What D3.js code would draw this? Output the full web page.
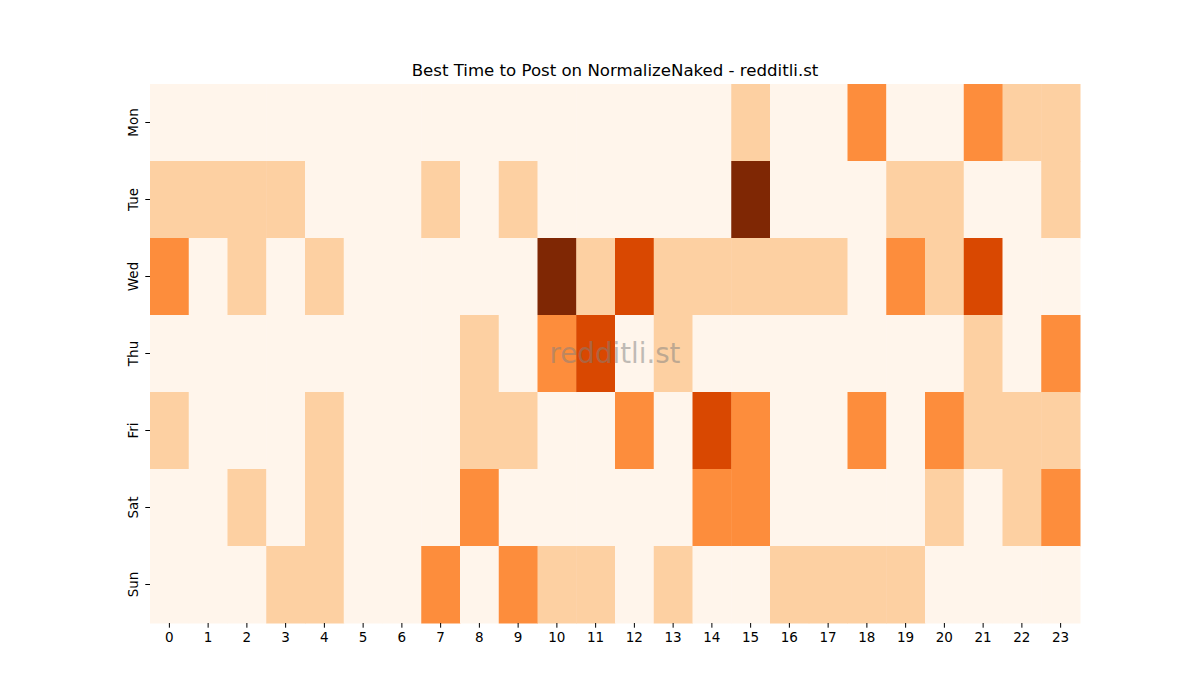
<!DOCTYPE html>
<html>
<head>
<meta charset="utf-8">
<script src="https://cdn.jsdelivr.net/npm/d3@7"></script>
<style>
  body { margin: 0; background: #fff; }
  text { font-family: "DejaVu Sans", sans-serif; }
</style>
</head>
<body>
<div id="chart"></div>
<script>
const days = ["Mon", "Tue", "Wed", "Thu", "Fri", "Sat", "Sun"];
const hours = d3.range(24);
// activity level per hour (0-4), one row per day
const mon = [0,0,0,0,0,0,0,0,0,0,0,0,0,0,0,1,0,0,2,0,0,2,1,1];
const tue = [1,1,1,1,0,0,0,1,0,1,0,0,0,0,0,4,0,0,0,1,1,0,0,1];
const wed = [2,0,1,0,1,0,0,0,0,0,4,1,3,1,1,1,1,1,0,2,1,3,0,0];
const thu = [0,0,0,0,0,0,0,0,1,0,2,3,0,1,0,0,0,0,0,0,0,1,0,2];
const fri = [1,0,0,0,1,0,0,0,1,1,0,0,2,0,3,2,0,0,2,0,2,1,1,1];
const sat = [0,0,1,0,1,0,0,0,2,0,0,0,0,0,2,2,0,0,0,0,1,0,1,2];
const sun = [0,0,0,1,1,0,0,2,0,2,1,1,0,1,0,0,1,1,1,1,0,0,0,0];
const levelColors = ["#fff5eb", "#fdd0a2", "#fd8d3c", "#d94801", "#7f2704"];

const rows = [mon, tue, wed, thu, fri, sat, sun];
const cells = [];
rows.forEach((r, i) => r.forEach((v, h) => cells.push({ day: days[i], hour: h, value: v })));

const W = 1200, H = 700;
const margin = { top: 84, right: 120, bottom: 77, left: 150 };
const width = W - margin.left - margin.right;
const height = H - margin.top - margin.bottom;

const svg = d3.select("#chart").append("svg")
    .attr("width", W)
    .attr("height", H);

const g = svg.append("g").attr("transform", `translate(${margin.left},${margin.top})`);

let x = d3.scaleBand().domain(hours).range([0, width]);
let y = d3.scaleBand().domain(days).range([0, height]);
let color = d3.scaleOrdinal().domain(d3.range(5)).range(levelColors);

g.selectAll("rect.cell")
    .data(cells)
    .join("rect")
    .attr("class", "cell")
    .attr("x", d => x(d.hour))
    .attr("y", d => y(d.day))
    .attr("width", x.bandwidth() + 0.5)
    .attr("height", y.bandwidth() + 0.5)
    .attr("fill", d => color(d.value));

// axes
let xAxis = g.append("g")
    .attr("transform", `translate(0,${height})`)
    .call(d3.axisBottom(x).tickSize(4.7).tickPadding(5));
let yAxis = g.append("g")
    .call(d3.axisLeft(y).tickSize(4.7).tickPadding(5));

[xAxis, yAxis].forEach(a => {
    a.select(".domain").remove();
    a.selectAll(".tick line").attr("stroke", "#000").attr("stroke-width", 1);
    a.selectAll(".tick text").attr("fill", "#000").style("font-size", "13.5px");
});

yAxis.selectAll(".tick text")
    .attr("transform", "rotate(-90)")
    .attr("x", 0)
    .attr("y", -12.5)
    .attr("dy", 0)
    .attr("text-anchor", "middle");

// title
svg.append("text")
    .attr("x", margin.left + width / 2)
    .attr("y", margin.top - 8)
    .attr("text-anchor", "middle")
    .style("font-size", "16.6px")
    .attr("fill", "#000")
    .text("Best Time to Post on NormalizeNaked - redditli.st");

// watermark
svg.append("text")
    .attr("x", margin.left + width / 2)
    .attr("y", margin.top + height / 2)
    .attr("text-anchor", "middle")
    .attr("dominant-baseline", "central")
    .style("font-size", "27.7px")
    .attr("fill", "#808080")
    .attr("fill-opacity", 0.5)
    .text("redditli.st");
</script>
</body>
</html>
